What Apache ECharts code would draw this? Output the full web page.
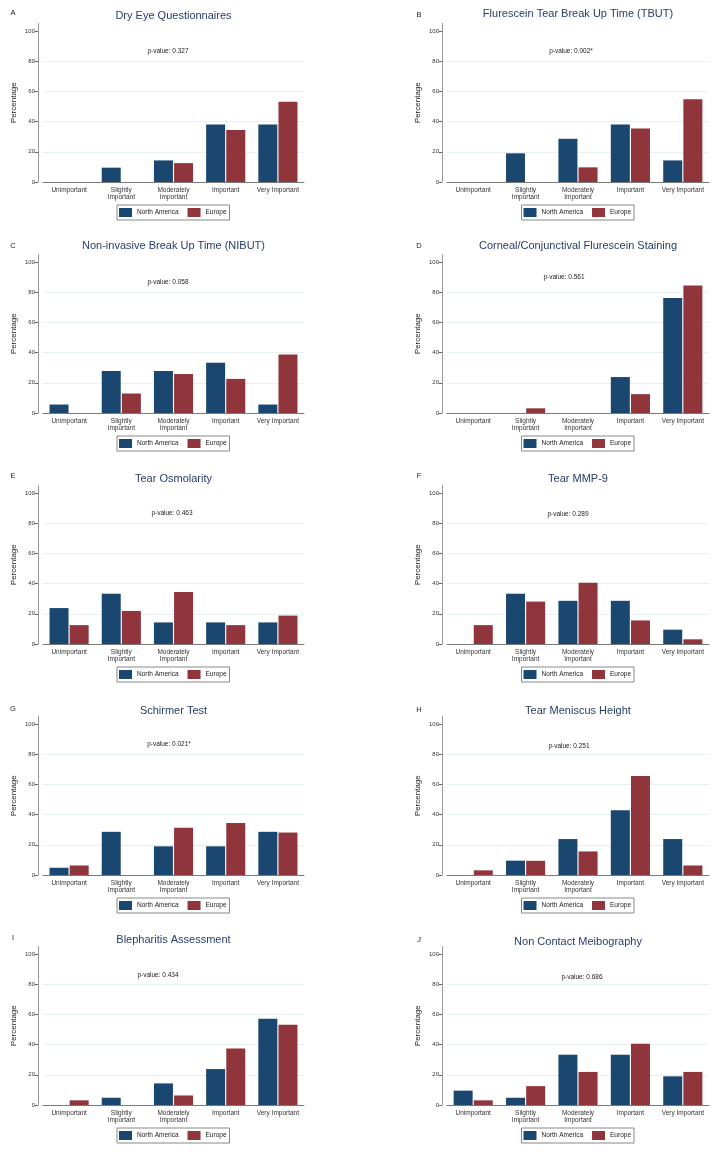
<!DOCTYPE html>
<html>
<head>
<meta charset="utf-8">
<script src="https://cdn.jsdelivr.net/npm/echarts@6/dist/echarts.min.js"></script>
<style>
html,body{margin:0;padding:0;background:#fff;}
#chart{width:724px;height:1155px;}
</style>
</head>
<body>
<div id="chart"></div>
<script>
// ---- data ----
const categories = ['Unimportant', 'Slightly\nImportant', 'Moderately\nImportant', 'Important', 'Very Important'];
const seriesNames = ['North America', 'Europe'];
const yTicks = [0, 20, 40, 60, 80, 100];
const gridValues = [20, 40, 60, 80];
const panelLetters = ['A', 'B', 'C', 'D', 'E', 'F', 'G', 'H', 'I', 'J'];
const panelTitles = [
  'Dry Eye Questionnaires',
  'Flurescein Tear Break Up Time (TBUT)',
  'Non-invasive Break Up Time (NIBUT)',
  'Corneal/Conjunctival Flurescein Staining',
  'Tear Osmolarity',
  'Tear MMP-9',
  'Schirmer Test',
  'Tear Meniscus Height',
  'Blepharitis Assessment',
  'Non Contact Meibography'
];
const pValues = ['p-value: 0.327', 'p-value: 0.002*', 'p-value: 0.058', 'p-value: 0.561', 'p-value: 0.463',
  'p-value: 0.289', 'p-value: 0.021*', 'p-value: 0.251', 'p-value: 0.434', 'p-value: 0.686'];
const northAmerica = [
  [0, 9.5, 14.3, 38.1, 38.1],
  [0, 19.0, 28.6, 38.1, 14.3],
  [5.6, 27.8, 27.8, 33.3, 5.6],
  [0, 0, 0, 23.8, 76.2],
  [23.8, 33.3, 14.3, 14.3, 14.3],
  [0, 33.3, 28.6, 28.6, 9.5],
  [4.8, 28.6, 19.0, 19.0, 28.6],
  [0, 9.5, 23.8, 42.9, 23.8],
  [0, 4.8, 14.3, 23.8, 57.1],
  [9.5, 4.8, 33.3, 33.3, 19.0]
];
const europe = [
  [0, 0, 12.5, 34.4, 53.1],
  [0, 0, 9.7, 35.5, 54.8],
  [0, 12.9, 25.8, 22.6, 38.7],
  [0, 3.1, 0, 12.5, 84.4],
  [12.5, 21.9, 34.4, 12.5, 18.8],
  [12.5, 28.1, 40.6, 15.6, 3.1],
  [6.3, 0, 31.3, 34.4, 28.1],
  [3.1, 9.4, 15.6, 65.6, 6.3],
  [3.1, 0, 6.3, 37.5, 53.1],
  [3.1, 12.5, 21.9, 40.6, 21.9]
];

// ---- layout (pixels) ----
const colLeft = [43, 447];       // grid left
const colWidth = [261, 262];
const rowZero = [182, 413, 644, 875, 1105]; // pixel of y=0
const pxPerUnit = 1.51;
const yMax = 105;
const pvalPos = [[168, 51], [571, 51], [168, 51], [564, 46], [172, 51], [568, 52], [169, 51], [569, 53], [158, 52], [582, 54]];
const letterDy = [13, 15, 15, 15, 14, 14, 16, 17, 15, 17];
const titleDy = [16, 14, 15, 15, 17, 17, 18, 18, 17, 19];

const NAVY = '#1a476f', MAROON = '#90353b';
const FONT = 'Liberation Sans, Arial, sans-serif';

const grids = [], xAxes = [], yAxes = [], series = [], legends = [], graphics = [];

for (let i = 0; i < 10; i++) {
  const col = i % 2, row = Math.floor(i / 2);
  const gl = colLeft[col], gw = colWidth[col];
  const y0 = rowZero[row];
  const gh = yMax * pxPerUnit;
  const top = y0 - gh;
  const rowTop = row === 0 ? 0 : rowZero[row] - 182;
  const cx = gl + gw / 2;
  grids.push({ left: gl, top: top, width: gw, height: gh, containLabel: false });
  xAxes.push({
    type: 'category', gridIndex: i, data: categories,
    axisLine: { lineStyle: { color: '#7a7a7a', width: 1 } },
    axisTick: { show: false },
    axisLabel: { fontSize: 6.5, color: '#333', margin: 4, lineHeight: 7.5, fontFamily: FONT, interval: 0 }
  });
  yAxes.push({
    type: 'value', gridIndex: i, min: 0, max: yMax, interval: 20, offset: 5,
    name: 'Percentage', nameLocation: 'middle', nameGap: 20,
    nameTextStyle: { fontSize: 8, color: '#222', fontFamily: FONT },
    axisLine: { show: true, lineStyle: { color: '#9a9a9a', width: 1 } },
    axisTick: { show: true, length: 3, lineStyle: { color: '#666' }, customValues: yTicks },
    axisLabel: { fontSize: 6, color: '#333', margin: 3, fontFamily: FONT, customValues: yTicks },
    splitLine: { show: false }
  });
  series.push({
    name: seriesNames[0], type: 'bar', xAxisIndex: i, yAxisIndex: i, data: northAmerica[i],
    barWidth: 19, barGap: '6%',
    itemStyle: { color: NAVY },
    markLine: {
      silent: true, symbol: 'none', label: { show: false }, animation: false, z: 1,
      lineStyle: { color: '#e6eff1', width: 1, type: 'solid' },
      data: gridValues.map(v => ({ yAxis: v }))
    },
    z: 3
  });
  series.push({
    name: seriesNames[1], type: 'bar', xAxisIndex: i, yAxisIndex: i, data: europe[i],
    barWidth: 19, barGap: '6%',
    itemStyle: { color: MAROON },
    z: 3
  });
  legends.push({
    data: seriesNames, left: cx - 56.5, top: y0 + 23,
    icon: 'rect', itemWidth: 13, itemHeight: 9, itemGap: 9,
    textStyle: { fontSize: 6.5, color: '#222', fontFamily: FONT },
    borderColor: '#888', borderWidth: 1, padding: [3, 3, 3, 2], selectedMode: false
  });
  graphics.push({
    type: 'text', x: col === 0 ? 13 : 419, y: rowTop + letterDy[i],
    style: { text: panelLetters[i], fill: '#222', font: '7.5px ' + FONT, textAlign: 'center', textVerticalAlign: 'middle' }
  });
  graphics.push({
    type: 'text', x: cx, y: rowTop + titleDy[i],
    style: { text: panelTitles[i], fill: '#263d6b', font: '11px ' + FONT, textAlign: 'center', textVerticalAlign: 'middle' }
  });
  graphics.push({
    type: 'text', x: pvalPos[i][0], y: rowTop + pvalPos[i][1],
    style: { text: pValues[i], fill: '#222', font: '6.5px ' + FONT, textAlign: 'center', textVerticalAlign: 'middle' }
  });
}

const chart = echarts.init(document.getElementById('chart'), null, { renderer: 'canvas' });
chart.setOption({
  backgroundColor: '#fff',
  animation: false,
  grid: grids, xAxis: xAxes, yAxis: yAxes, series: series, legend: legends,
  graphic: graphics
});
</script>
</body>
</html>
